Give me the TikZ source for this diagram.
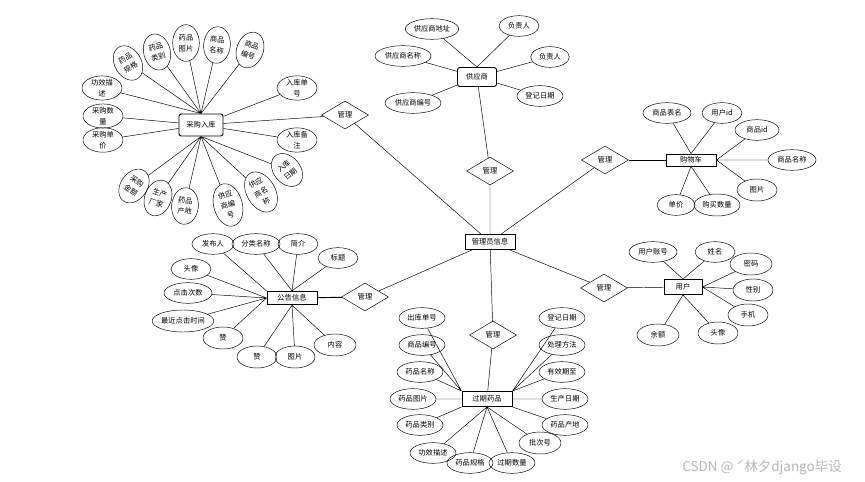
\documentclass[tikz,border=0pt]{standalone}
\usepackage{fontspec}
\setmainfont{Noto Sans CJK SC}
\usetikzlibrary{shapes.geometric}

\begin{document}
\begin{tikzpicture}[
  x=0.03cm, y=-0.03cm,
  every node/.style={font=\fontsize{6.2}{9}\selectfont},
  entity/.style={draw, thick, minimum width=1.5cm, minimum height=0.45cm, inner sep=1pt},
  attr/.style={draw, ellipse, inner sep=0pt, minimum width=1.26cm, minimum height=0.62cm, align=center},
  tall/.style={attr, minimum width=0.8cm, minimum height=1.1cm},
  taller/.style={attr, minimum width=0.86cm, minimum height=1.3cm},
  rel/.style={draw, diamond, aspect=1.7, inner sep=0pt, minimum width=1.41cm, minimum height=0.84cm}
]
\useasboundingbox (0,0) rectangle (865,482);

% entities
\node[entity] (admin) at (490,242) {管理员信息};
\node[entity, rounded corners=2pt, minimum width=1.32cm, minimum height=0.66cm] (purchase) at (201,125) {采购入库};
\node[entity, rounded corners=2pt, minimum width=1.17cm, minimum height=0.57cm] (supplier) at (477,77) {供应商};
\node[entity, minimum height=0.36cm] (cart) at (691,160) {购物车};
\node[entity, minimum width=1.14cm] (user) at (683,287) {用户};
\node[entity, minimum height=0.4cm] (notice) at (292,298) {公告信息};
\node[entity] (expired) at (487,399) {过期药品};

% relations
\node[rel] (rpurchase) at (345,115) {管理};
\node[rel] (rsupplier) at (490,171) {管理};
\node[rel] (rcart) at (605,160) {管理};
\node[rel] (ruser) at (604,288) {管理};
\node[rel] (rexpired) at (493,335) {管理};
\node[rel] (rnotice) at (365,297) {管理};

\draw (purchase) -- (rpurchase) -- (admin);
\draw (supplier) -- (rsupplier) -- (admin);
\draw[thick] (cart) -- (rcart);
\draw (rcart) -- (admin);
\draw (user) -- (ruser) -- (admin);
\draw (expired) -- (rexpired) -- (admin);
\draw[thick] (notice) -- (rnotice);
\draw (rnotice) -- (admin);

% purchase attributes
\node[tall, rotate=30] (pa1) at (128,63) {药品\\规格};
\node[tall, rotate=15] (pa2) at (157,52) {药品\\类别};
\node[tall] (pa3) at (186,43) {药品\\图片};
\node[tall, rotate=-5] (pa4) at (217,45) {商品\\名称};
\node[tall, rotate=-20] (pa5) at (250,50) {商品\\编号};
\node[attr, minimum width=1.2cm, minimum height=0.72cm] (pa6) at (102,88) {功效描\\述};
\node[attr, minimum width=1.2cm, minimum height=0.72cm] (pa7) at (103,116) {采购数\\量};
\node[attr, minimum width=1.2cm, minimum height=0.72cm] (pa8) at (103,140) {采购单\\价};
\node[attr, minimum width=1.2cm, minimum height=0.72cm] (pa9) at (297,88) {入库单\\号};
\node[attr, minimum width=1.2cm, minimum height=0.72cm] (pa10) at (297,140) {入库备\\注};
\node[tall, rotate=-35] (pa11) at (134,186) {采购\\金额};
\node[tall, rotate=-20] (pa12) at (158,198) {生产\\厂家};
\node[tall, rotate=-5] (pa13) at (185,206) {药品\\产地};
\node[taller, rotate=15] (pa14) at (228,205) {供应\\商编\\号};
\node[taller, rotate=30] (pa15) at (261,192) {供应\\商名\\称};
\node[tall, rotate=40] (pa16) at (287,170) {入库\\日期};

\draw (purchase.north) -- (pa1) (purchase.north) -- (pa2) (purchase.north) -- (pa3)
      (purchase.north) -- (pa4) (purchase.north) -- (pa5) (purchase.north) -- (pa6);
\draw (purchase) -- (pa7) (purchase) -- (pa8) (purchase) -- (pa9) (purchase) -- (pa10);
\draw (purchase.south) -- (pa11) (purchase.south) -- (pa12) (purchase.south) -- (pa13)
      (purchase.south) -- (pa14) (purchase.south) -- (pa15) (purchase.south) -- (pa16);

% supplier attributes
\node[attr, minimum width=1.6cm] (sa1) at (432,29) {供应商地址};
\node[attr, minimum width=1.2cm] (sa2) at (519,26) {负责人};
\node[attr, minimum width=1.68cm] (sa3) at (403,56) {供应商名称};
\node[attr, minimum width=1.16cm] (sa4) at (550,57) {负责人};
\node[attr, minimum width=1.68cm] (sa5) at (413,103) {供应商编号};
\node[attr, minimum width=1.38cm] (sa6) at (540,96) {登记日期};

\draw (supplier.north) -- (sa1) (supplier.north) -- (sa2) (supplier) -- (sa3)
      (supplier) -- (sa4) (supplier) -- (sa5) (supplier) -- (sa6);

% cart attributes
\node[attr, minimum width=1.44cm] (ca1) at (667,113) {商品表名};
\node[attr, minimum width=1.2cm] (ca2) at (722,113) {用户id};
\node[attr, minimum width=1.32cm] (ca3) at (757,130) {商品id};
\node[attr, minimum width=1.44cm] (ca4) at (792,160) {商品名称};
\node[attr, minimum width=1.2cm, minimum height=0.66cm] (ca5) at (757,190) {图片};
\node[attr, minimum width=1.14cm] (ca6) at (676,205) {单价};
\node[attr, minimum width=1.38cm, minimum height=0.66cm] (ca7) at (717,205) {购买数量};

\draw (cart.north) -- (ca1) (cart.north) -- (ca2) (cart.east) -- (ca3) (cart) -- (ca4)
      (cart.east) -- (ca5) (cart.south) -- (ca6) (cart.south) -- (ca7);

% user attributes
\node[attr, minimum width=1.44cm] (ua1) at (653,252) {用户账号};
\node[attr, minimum width=1.2cm] (ua2) at (715,252) {姓名};
\node[attr, minimum width=1.26cm, minimum height=0.66cm] (ua3) at (751,264) {密码};
\node[attr, minimum width=1.2cm, minimum height=0.66cm] (ua4) at (753,290) {性别};
\node[attr, minimum width=1.2cm, minimum height=0.66cm] (ua5) at (748,315) {手机};
\node[attr, minimum width=1.2cm, minimum height=0.66cm] (ua6) at (718,333) {头像};
\node[attr, minimum width=1.26cm, minimum height=0.66cm] (ua7) at (658,335) {余额};

\draw (user.north) -- (ua1) (user.north) -- (ua2) (user.east) -- (ua3) (user.east) -- (ua4)
      (user.east) -- (ua5) (user.south) -- (ua6) (user.south) -- (ua7);

% notice attributes
\node[attr] (na1) at (213,244) {发布人};
\node[attr, minimum width=1.44cm] (na2) at (256,244) {分类名称};
\node[attr, minimum width=1.2cm] (na3) at (298,244) {简介};
\node[attr, minimum width=1.2cm] (na4) at (338,258) {标题};
\node[attr, minimum width=1.2cm] (na5) at (191,269) {头像};
\node[attr, minimum width=1.44cm] (na6) at (188,293) {点击次数};
\node[attr, minimum width=1.74cm, minimum height=0.66cm] (na7) at (183,321) {最近点击时间};
\node[attr, minimum width=1.2cm, minimum height=0.66cm] (na8) at (223,338) {赞};
\node[attr, minimum width=1.2cm, minimum height=0.66cm] (na9) at (257,357) {赞};
\node[attr, minimum width=1.2cm, minimum height=0.66cm] (na10) at (295,357) {图片};
\node[attr, minimum width=1.26cm, minimum height=0.66cm] (na11) at (335,345) {内容};

\draw (notice.north west) -- (na1) (notice.north) -- (na2) (notice.north) -- (na3)
      (notice.north) -- (na4) (notice.west) -- (na5) (notice.west) -- (na6)
      (notice.west) -- (na7) (notice.west) -- (na8) (notice.south) -- (na9)
      (notice.south) -- (na10) (notice.south) -- (na11);

% expired attributes
\node[attr, minimum width=1.38cm] (ea1) at (422,318) {出库单号};
\node[attr, minimum width=1.38cm] (ea2) at (422,345) {商品编号};
\node[attr, minimum width=1.38cm] (ea3) at (420,372) {药品名称};
\node[attr, minimum width=1.38cm] (ea4) at (413,399) {药品图片};
\node[attr, minimum width=1.38cm] (ea5) at (420,425) {药品类别};
\node[attr, minimum width=1.38cm] (ea6) at (433,453) {功效描述};
\node[attr, minimum width=1.38cm] (ea7) at (470,463) {药品规格};
\node[attr, minimum width=1.38cm] (ea8) at (512,463) {过期数量};
\node[attr, minimum width=1.26cm, minimum height=0.66cm] (ea9) at (540,443) {批次号};
\node[attr, minimum width=1.38cm] (ea10) at (565,425) {药品产地};
\node[attr, minimum width=1.38cm] (ea11) at (565,399) {生产日期};
\node[attr, minimum width=1.38cm] (ea12) at (562,372) {有效期至};
\node[attr, minimum width=1.38cm] (ea13) at (562,345) {处理方法};
\node[attr, minimum width=1.38cm] (ea14) at (562,318) {登记日期};

\draw (expired.north west) -- (ea1) (expired.north west) -- (ea2) (expired.north west) -- (ea3)
      (expired.west) -- (ea4) (expired.south west) -- (ea5);
\draw (expired.south) -- (ea6) (expired.south) -- (ea7) (expired.south) -- (ea8) (expired.south) -- (ea9);
\draw (expired.south east) -- (ea10) (expired.east) -- (ea11) (expired.north east) -- (ea12)
      (expired.north east) -- (ea13) (expired.north east) -- (ea14);

\node[font=\fontsize{11.5}{13}\selectfont, text=black!28] (mark) at (762,467) {CSDN @ ˊ林夕django毕设};
\end{tikzpicture}
\end{document}
